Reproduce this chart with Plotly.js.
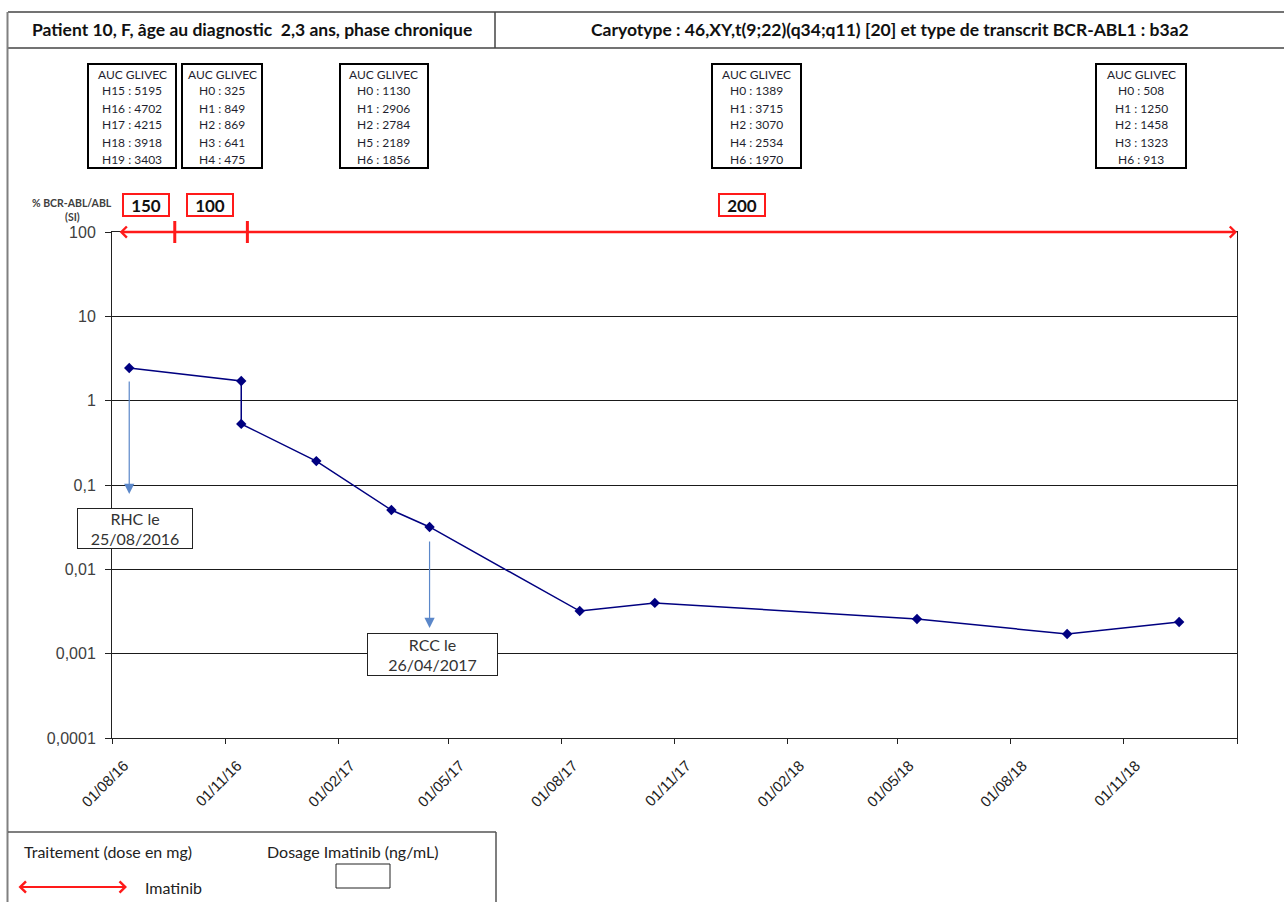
<!DOCTYPE html>
<html>
<head>
<meta charset="utf-8">
<script src="https://cdn.plot.ly/plotly-3.0.1.min.js"></script>
<style>html,body{margin:0;padding:0;background:#fff}#chart{width:1284px;height:902px}</style>
</head>
<body>
<div id="chart"></div>
<script>
// ---------- data ----------
const sampleDates = ['2016-08-15','2016-11-14','2016-11-14','2017-01-14','2017-03-16','2017-04-16','2017-08-16','2017-10-16','2018-05-17','2018-09-16','2018-12-16'];
const bcrAblValues = [2.44, 1.71, 0.53, 0.192, 0.0505, 0.0318, 0.0032, 0.0040, 0.00258, 0.00171, 0.00237];

const xTickDates = ['2016-08-01','2016-11-01','2017-02-01','2017-05-01','2017-08-01','2017-11-01','2018-02-01','2018-05-01','2018-08-01','2018-11-01','2019-02-01'];
const xTickLabels = ['01/08/16','01/11/16','01/02/17','01/05/17','01/08/17','01/11/17','01/02/18','01/05/18','01/08/18','01/11/18',''];
const yTickValues = [0.0001, 0.001, 0.01, 0.1, 1, 10, 100];
const yTickLabels = ['0,0001','0,001','0,01','0,1','1','10','100'];

const doseLabels = ['150','100','200'];
const doseStart = ['2016-08-06','2016-09-21','2016-11-19'];
const doseEnd = ['2016-09-21','2016-11-19','2019-02-01'];

const aucTitle = 'AUC GLIVEC';
const aucHours = [
  ['H15','H16','H17','H18','H19'],
  ['H0','H1','H2','H3','H4'],
  ['H0','H1','H2','H5','H6'],
  ['H0','H1','H2','H4','H6'],
  ['H0','H1','H2','H3','H6']
];
const aucValues = [
  [5195, 4702, 4215, 3918, 3403],
  [325, 849, 869, 641, 475],
  [1130, 2906, 2784, 2189, 1856],
  [1389, 3715, 3070, 2534, 1970],
  [508, 1250, 1458, 1323, 913]
];

const eventLabels = ['RHC le<br>25/08/2016', 'RCC le<br>26/04/2017'];
const eventDates = ['2016-08-15', '2017-04-16'];

const headerLeft = 'Patient 10, F, âge au diagnostic  2,3 ans, phase chronique';
const headerRight = 'Caryotype : 46,XY,t(9;22)(q34;q11) [20] et type de transcrit BCR-ABL1 : b3a2';
const yTitleLines = ['% BCR-ABL/ABL', '(SI)'];
const legendTreatment = 'Traitement (dose en mg)';
const legendDosage = 'Dosage Imatinib (ng/mL)';
const legendDrug = 'Imatinib';

// ---------- layout helpers (page pixel -> paper) ----------
const W = 1284, H = 902;
const px = x => x / W;
const py = y => 1 - y / H;
const CAL = 'Lato, "Open Sans", sans-serif';
const ARI = '"Liberation Sans", Arial, sans-serif';
const RED = '#ff1a1a';
const NAVY = '#000080';

const shapes = [];
const annotations = [];
const note = o => annotations.push(Object.assign({xanchor:'center', yanchor:'middle', showarrow:false}, o));

// header frame
shapes.push({type:'line', xref:'paper', yref:'paper', x0:px(8), x1:px(1290), y0:py(12), y1:py(12), line:{color:'#444', width:1.5}});
shapes.push({type:'line', xref:'paper', yref:'paper', x0:px(8), x1:px(1290), y0:py(48), y1:py(48), line:{color:'#444', width:1.5}});
shapes.push({type:'line', xref:'paper', yref:'paper', x0:px(495), x1:px(495), y0:py(12), y1:py(48), line:{color:'#444', width:1.5}});
// outer left border
shapes.push({type:'line', xref:'paper', yref:'paper', x0:px(7.5), x1:px(7.5), y0:py(12), y1:py(905), line:{color:'#808080', width:2}});
// legend box
shapes.push({type:'line', xref:'paper', yref:'paper', x0:px(8), x1:px(496), y0:py(832), y1:py(832), line:{color:'#555', width:1.5}});
shapes.push({type:'line', xref:'paper', yref:'paper', x0:px(496), x1:px(496), y0:py(832), y1:py(905), line:{color:'#555', width:1.5}});
shapes.push({type:'rect', xref:'paper', yref:'paper', x0:px(336), x1:px(390), y0:py(864), y1:py(888), line:{color:'#222', width:1}, fillcolor:'#fff'});

note({xref:'paper', yref:'paper', x:px(252), y:py(30), text:headerLeft, font:{family:CAL, size:17.5, color:'#111', weight:700}});
note({xref:'paper', yref:'paper', x:px(890), y:py(30), text:headerRight, font:{family:CAL, size:17.5, color:'#111', weight:700}});

// AUC boxes
const aucBoxes = [[88,176],[182,262],[340,428],[712,801],[1096,1186]];
aucBoxes.forEach((b, i) => {
  shapes.push({type:'rect', xref:'paper', yref:'paper', x0:px(b[0]), x1:px(b[1]), y0:py(64), y1:py(168), line:{color:'#000', width:2}, fillcolor:'rgba(0,0,0,0)'});
  const cx = (b[0] + b[1]) / 2;
  const lines = [aucTitle].concat(aucHours[i].map((h, k) => h + ' : ' + aucValues[i][k]));
  lines.forEach((t, k) => {
    note({xref:'paper', yref:'paper', x:px(cx), y:py(74 + 17 * k), text:t, font:{family:CAL, size:12, color:'#1f1f2f'}});
  });
});

// y-axis title
yTitleLines.forEach((t, k) => {
  note({xref:'paper', yref:'paper', x:px(72), y:py(203 + 14 * k), text:t, font:{family:CAL, size:10.5, color:'#404040', weight:700}});
});

// dose arrow
annotations.push({xref:'x', yref:'paper', x:doseEnd[doseEnd.length-1], y:py(232), axref:'x', ayref:'paper', ax:doseStart[0], ay:py(232),
  text:'', showarrow:true, arrowhead:4, startarrowhead:4, arrowside:'end+start', arrowsize:0.85, startarrowsize:0.85, arrowwidth:2.5, arrowcolor:RED, standoff:0, startstandoff:0});
// dose change bars
doseStart.slice(1).forEach(d => {
  shapes.push({type:'line', xref:'x', yref:'paper', x0:d, x1:d, y0:py(221), y1:py(243), line:{color:RED, width:3}});
});
// dose labels
const toMs = d => new Date(d + 'T00:00:00Z').getTime();
doseLabels.forEach((lab, i) => {
  const mid = new Date((toMs(doseStart[i]) + toMs(doseEnd[i])) / 2).toISOString().slice(0,10);
  note({xref:'x', yref:'paper', x:mid, y:py(205), text:'<b>' + lab + '</b>',
    font:{family:CAL, size:17, color:'#111'}, bordercolor:RED, borderwidth:2, borderpad:1, bgcolor:'#fff', width:42, height:18});
});

// event arrows + boxes
const eventArrow = [[380, 494], [540, 628]];
const eventBox = [[77,193,508,549],[367,498,633,676]];
eventLabels.forEach((lab, i) => {
  annotations.push({xref:'x', yref:'paper', x:eventDates[i], y:py(eventArrow[i][1]), ax:0, ay:-(eventArrow[i][1] - eventArrow[i][0]),
    text:'', showarrow:true, arrowhead:2, arrowsize:1.7, arrowwidth:1.2, arrowcolor:'#5b87c9', standoff:0});
  const b = eventBox[i];
  note({xref:'paper', yref:'paper', x:px((b[0]+b[1])/2), y:py((b[2]+b[3])/2), text:lab,
    font:{family:CAL, size:16, color:'#333'}, bordercolor:'#222', borderwidth:1, borderpad:0, bgcolor:'#fff',
    width:b[1]-b[0]-2, height:b[3]-b[2]-2});
});

// legend
note({xref:'paper', yref:'paper', x:px(22), y:py(851), xanchor:'left', text:legendTreatment, font:{family:CAL, size:16, color:'#222'}});
note({xref:'paper', yref:'paper', x:px(265), y:py(851), xanchor:'left', text:legendDosage, font:{family:CAL, size:16, color:'#222'}});
note({xref:'paper', yref:'paper', x:px(143), y:py(887), xanchor:'left', text:legendDrug, font:{family:CAL, size:16, color:'#222'}});
annotations.push({xref:'paper', yref:'paper', x:px(127), y:py(887), ax:-110, ay:0,
  text:'', showarrow:true, arrowhead:4, startarrowhead:4, arrowside:'end+start', arrowsize:1.1, startarrowsize:1.1, arrowwidth:2, arrowcolor:RED, standoff:0, startstandoff:0});

const traces = [{
  type:'scatter', mode:'lines+markers', x:sampleDates, y:bcrAblValues,
  line:{color:NAVY, width:1.5}, marker:{symbol:'diamond', size:8, color:NAVY},
  cliponaxis:false, showlegend:false, hoverinfo:'x+y'
}];

const layout = {
  width:W, height:H,
  margin:{l:0, r:0, t:0, b:0, pad:0},
  paper_bgcolor:'#fff', plot_bgcolor:'#fff',
  showlegend:false,
  xaxis:{
    type:'date', domain:[px(112), px(1237)], range:['2016-08-01','2019-02-01'],
    tickmode:'array', tickvals:xTickDates, ticktext:xTickLabels, tickangle:-45,
    ticks:'outside', ticklen:5, tickcolor:'#222', tickwidth:1,
    ticklabelshift:12, ticklabelstandoff:7,
    showgrid:false, zeroline:false, showline:true, linecolor:'#222', linewidth:1, mirror:true,
    tickfont:{family:ARI, size:15, color:'#222'}, fixedrange:true
  },
  yaxis:{
    type:'log', domain:[py(738), py(232)], range:[-4, 2],
    tickmode:'array', tickvals:yTickValues, ticktext:yTickLabels,
    ticks:'outside', ticklen:6, tickcolor:'#222', tickwidth:1,
    ticklabelstandoff:6,
    showgrid:true, gridcolor:'#1a1a1a', gridwidth:1, zeroline:false,
    showline:true, linecolor:'#222', linewidth:1, mirror:true,
    tickfont:{family:ARI, size:16, color:'#404040'}, fixedrange:true
  },
  shapes:shapes,
  annotations:annotations
};

Plotly.newPlot('chart', traces, layout, {displayModeBar:false, staticPlot:true});
</script>
</body>
</html>
